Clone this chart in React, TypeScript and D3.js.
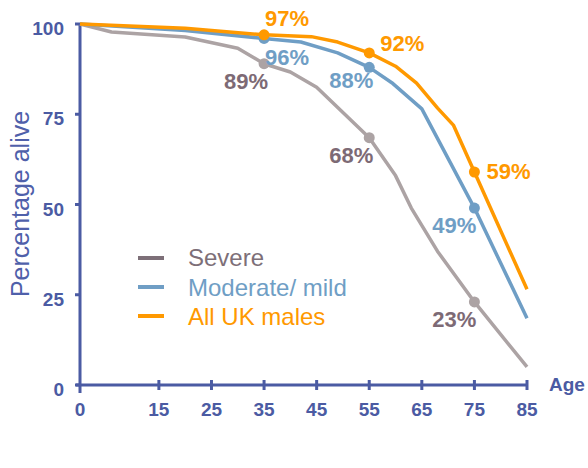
import React from "react";
import * as d3 from "d3";

const xTicks = [0, 15, 25, 35, 45, 55, 65, 75, 85];
const yTicks = [0, 25, 50, 75, 100];

const severeAges = [0, 6, 20, 30, 35, 40, 45, 55, 60, 63, 68, 75, 85];
const severeVals = [100, 97.8, 96.4, 93.3, 89, 86.7, 82.5, 68.5, 58, 49, 37, 23, 5];

const moderateAges = [0, 20, 35, 42, 49, 55, 59.5, 65, 75, 85];
const moderateVals = [100, 98.2, 96, 95, 92, 88, 83.5, 76.5, 49, 18.5];

const ukAges = [0, 20, 35, 44, 49, 55, 60, 64, 68, 71, 75, 85];
const ukVals = [100, 98.8, 97, 96.5, 95, 92, 88.3, 83.6, 76.7, 72, 59, 26.5];

const markerAges = [35, 55, 75];
const severeLabels = ["89%", "68%", "23%"];
const moderateLabels = ["96%", "88%", "49%"];
const ukLabels = ["97%", "92%", "59%"];

const legendNames = ["Severe", "Moderate/ mild", "All UK males"];

const AXIS = "#4b5ba3";
const FONT = "'Liberation Sans', Arial, sans-serif";

type Series = {
  ages: number[];
  vals: number[];
  line: string;
  text: string;
  labels: string[];
  offs: { dx: number; dy: number; anchor: string }[];
};

export default function App() {
  const x = d3.scaleLinear().domain([0, 85]).range([80, 527]);
  const y = d3.scaleLinear().domain([0, 100]).range([385, 24]);

  const series: Series[] = [
    {
      ages: severeAges,
      vals: severeVals,
      line: "#aca3a4",
      text: "#7d6a75",
      labels: severeLabels,
      offs: [
        { dx: 4, dy: 25, anchor: "end" },
        { dx: 4, dy: 25, anchor: "end" },
        { dx: 2, dy: 25, anchor: "end" },
      ],
    },
    {
      ages: moderateAges,
      vals: moderateVals,
      line: "#6f9ec5",
      text: "#6f9ec5",
      labels: moderateLabels,
      offs: [
        { dx: 1, dy: 27, anchor: "start" },
        { dx: 4, dy: 21, anchor: "end" },
        { dx: 2, dy: 25, anchor: "end" },
      ],
    },
    {
      ages: ukAges,
      vals: ukVals,
      line: "#ff9900",
      text: "#ff9900",
      labels: ukLabels,
      offs: [
        { dx: 1, dy: -9, anchor: "start" },
        { dx: 11, dy: -2, anchor: "start" },
        { dx: 12, dy: 7, anchor: "start" },
      ],
    },
  ];

  const lineGen = (ages: number[], vals: number[]) =>
    d3
      .line<number>()
      .x((_, i) => x(ages[i]))
      .y((v) => y(v))(vals) || "";

  const valAt = (s: Series, age: number) => s.vals[s.ages.indexOf(age)];

  const legendColors = ["#7d6f78", "#6f9ec5", "#ff9900"];

  return (
    <svg
      width={588}
      height={468}
      style={{ position: "absolute", left: 0, top: 0, fontFamily: FONT }}
    >
      <rect width={588} height={468} fill="#fff" />
      {/* y axis */}
      <line x1={x(0)} x2={x(0)} y1={y(0) + 8} y2={y(100)} stroke={AXIS} strokeWidth={3} />
      {yTicks.map((t) => (
        <g key={"y" + t}>
          <line x1={x(0) - 5} x2={x(0)} y1={y(t)} y2={y(t)} stroke={AXIS} strokeWidth={3} />
          <text
            x={64}
            y={y(t) + 11}
            textAnchor="end"
            fontSize={19}
            fontWeight="bold"
            fill={AXIS}
          >
            {t}
          </text>
        </g>
      ))}
      {/* x axis */}
      <line x1={x(0) - 4} x2={x(85)} y1={y(0)} y2={y(0)} stroke={AXIS} strokeWidth={3} />
      {xTicks.map((t) => (
        <g key={"x" + t}>
          {t > 0 && (
            <line x1={x(t)} x2={x(t)} y1={y(0) - 5} y2={y(0) + 5} stroke={AXIS} strokeWidth={3} />
          )}
          <text
            x={x(t)}
            y={416}
            textAnchor="middle"
            fontSize={19}
            fontWeight="bold"
            fill={AXIS}
          >
            {t}
          </text>
        </g>
      ))}
      <text x={549} y={391} fontSize={19} fontWeight="bold" fill={AXIS}>
        Age
      </text>
      <text
        transform={`translate(29,204) rotate(-90)`}
        textAnchor="middle"
        fontSize={25}
        fill="#4f60aa"
      >
        Percentage alive
      </text>

      {/* lines */}
      {series.map((s, i) => (
        <path
          key={"l" + i}
          d={lineGen(s.ages, s.vals)}
          fill="none"
          stroke={s.line}
          strokeWidth={3.5}
          strokeLinejoin="round"
        />
      ))}
      {/* markers and labels */}
      {series.map((s, i) => (
        <g key={"m" + i}>
          {markerAges.map((a, j) => {
            const cx = x(a);
            const cy = y(valAt(s, a));
            const o = s.offs[j];
            return (
              <g key={j}>
                <circle cx={cx} cy={cy} r={5.5} fill={s.line} />
                <text
                  x={cx + o.dx}
                  y={cy + o.dy}
                  textAnchor={o.anchor as any}
                  fontSize={22}
                  fontWeight="bold"
                  fill={s.text}
                >
                  {s.labels[j]}
                </text>
              </g>
            );
          })}
        </g>
      ))}

      {/* legend */}
      {legendNames.map((n, i) => (
        <g key={"lg" + i}>
          <line
            x1={138}
            x2={164}
            y1={258 + i * 29}
            y2={258 + i * 29}
            stroke={legendColors[i]}
            strokeWidth={4}
          />
          <text x={188} y={266 + i * 29.5} fontSize={24} fill={legendColors[i]}>
            {n}
          </text>
        </g>
      ))}
    </svg>
  );
}
